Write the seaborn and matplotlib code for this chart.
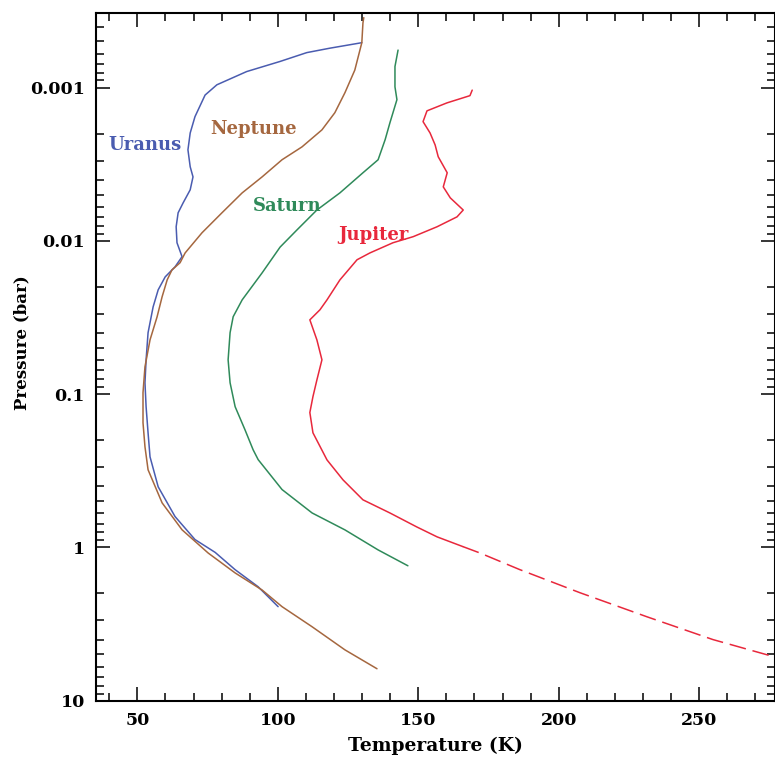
import numpy as np
import pandas as pd
import matplotlib
matplotlib.use("Agg")
import matplotlib.pyplot as plt
from matplotlib.ticker import MultipleLocator, LogLocator, NullFormatter
import seaborn as sns

# =========================
# data
# =========================
uranus_T = [129.9, 118.5, 110.3, 100.8, 88.9, 78.3, 74.1, 70.5, 68.8, 68.0, 68.8, 69.8,
            68.8, 66.3, 64.5, 63.8, 64.1, 65.9, 63.4, 59.9, 57.4, 55.6, 53.8, 53.1, 52.7,
            53.1, 53.8, 54.5, 57.4, 63.4, 70.5, 77.7, 84.8, 93.0, 100.1]
uranus_P = [5.1e-4, 5.54e-4, 5.92e-4, 6.76e-4, 7.87e-4, 9.6e-4, 1.12e-3, 1.55e-3, 1.98e-3,
            2.55e-3, 3.29e-3, 3.83e-3, 4.65e-3, 5.65e-3, 6.57e-3, 8.1e-3, 0.0103, 0.0127,
            0.0148, 0.0172, 0.0209, 0.027, 0.0398, 0.0598, 0.0844, 0.121, 0.179, 0.257,
            0.403, 0.63, 0.89, 1.08, 1.4, 1.81, 2.44]

neptune_T = [130.6, 130.3, 129.9, 127.4, 123.9, 120.3, 115.7, 108.6, 101.5, 94.4, 87.3, 80.1,
             73.0, 67.0, 65.2, 62.3, 60.6, 58.8, 57.0, 54.5, 52.7, 52.0, 52.0, 52.7, 53.8,
             58.8, 65.9, 75.2, 84.8, 94.4, 101.5, 112.2, 123.9, 135.3]
neptune_P = [3.5e-4, 3.79e-4, 5.1e-4, 7.7e-4, 1.08e-3, 1.46e-3, 1.89e-3, 2.44e-3, 2.96e-3,
             3.83e-3, 4.87e-3, 6.57e-3, 8.87e-3, 0.012, 0.0139, 0.0155, 0.018, 0.0232,
             0.0314, 0.0443, 0.0664, 0.098, 0.154, 0.221, 0.312, 0.513, 0.769, 1.09, 1.47,
             1.9, 2.44, 3.3, 4.67, 6.2]

saturn_T = [142.8, 141.7, 141.7, 142.4, 139.9, 138.2, 135.7, 130.3, 122.1, 113.9, 106.8, 100.8,
            94.4, 87.3, 84.1, 83.0, 82.3, 83.0, 84.8, 88.3, 91.2, 93.0, 101.5, 112.2, 123.9,
            135.7, 146.3]
saturn_P = [5.7e-4, 7.3e-4, 9.9e-4, 1.2e-3, 1.7e-3, 2.19e-3, 2.96e-3, 3.6e-3, 4.87e-3, 6.3e-3,
            8.5e-3, 0.011, 0.0162, 0.0243, 0.0313, 0.0398, 0.0598, 0.0844, 0.121, 0.171,
            0.231, 0.268, 0.42, 0.597, 0.77, 1.04, 1.32]

jupiter_T = [169.2, 168.4, 160.2, 153.1, 151.7, 154.2, 156.0, 157.1, 160.3, 158.9, 161.4, 166.0,
             163.8, 156.7, 148.2, 141.0, 132.8, 128.2, 122.1, 117.5, 115.0, 111.4, 113.9,
             115.7, 113.9, 112.5, 111.4, 112.5, 117.5, 123.2, 130.3, 139.9, 149.5, 156.7, 165.9]
jupiter_P = [1.04e-3, 1.13e-3, 1.26e-3, 1.42e-3, 1.67e-3, 1.98e-3, 2.37e-3, 2.83e-3, 3.6e-3,
             4.45e-3, 5.25e-3, 6.3e-3, 6.98e-3, 8.1e-3, 9.4e-3, 0.0103, 0.012, 0.0133, 0.018,
             0.0243, 0.0282, 0.0328, 0.0443, 0.0598, 0.081, 0.104, 0.132, 0.179, 0.269,
             0.363, 0.49, 0.597, 0.737, 0.855, 0.99]
# deeper Jupiter part (dashed)
jupiter_ext_T = [165.9, 172.0, 186.2, 207.6, 231.4, 254.9, 277.0, 282.0]
jupiter_ext_P = [0.99, 1.09, 1.4, 1.98, 2.84, 4.0, 5.2, 5.6]

ytick_vals = [1e-3, 1e-2, 1e-1, 1, 10]
ytick_labels = ["0.001", "0.01", "0.1", "1", "10"]
xtick_vals = [50, 100, 150, 200, 250]

names = ["Uranus", "Neptune", "Saturn", "Jupiter"]
label_T = [52.8, 91.5, 103.3, 134.2]
label_P = [2.37e-3, 1.86e-3, 5.9e-3, 9.14e-3]

colors = {"Uranus": "#4a5cb0", "Neptune": "#a5673f", "Saturn": "#2f8a5a", "Jupiter": "#e8283c"}

# =========================
# style
# =========================
sns.set_style("ticks")
plt.rcParams["font.family"] = ["DejaVu Serif"]
plt.rcParams["font.weight"] = "bold"
plt.rcParams["text.color"] = "black"
plt.rcParams["axes.labelcolor"] = "black"

fig = plt.figure(figsize=(7.75, 7.59), dpi=100)
ax = fig.add_axes([0.124, 0.077, 0.876, 0.906])

lw = 1.1
curves = [("Uranus", uranus_T, uranus_P), ("Neptune", neptune_T, neptune_P),
          ("Saturn", saturn_T, saturn_P), ("Jupiter", jupiter_T, jupiter_P)]
for name, T, P in curves:
    df = pd.DataFrame({"T": T, "P": P})
    sns.lineplot(data=df, x="T", y="P", sort=False, estimator=None,
                 color=colors[name], lw=lw, ax=ax)

df_ext = pd.DataFrame({"T": jupiter_ext_T, "P": jupiter_ext_P})
sns.lineplot(data=df_ext, x="T", y="P", sort=False, estimator=None,
             color=colors["Jupiter"], lw=lw, ax=ax)
ax.lines[-1].set_dashes((11, 4.5))

ax.set_yscale("log")
ax.set_xlim(35.3, 277)
ax.set_ylim(10, 3.26e-4)

ax.set_xticks(xtick_vals)
ax.xaxis.set_minor_locator(MultipleLocator(10))
ax.set_yticks(ytick_vals)
ax.set_yticklabels(ytick_labels)
ax.yaxis.set_minor_locator(LogLocator(base=10, subs=np.arange(2, 10)))
ax.yaxis.set_minor_formatter(NullFormatter())

ax.tick_params(which="both", direction="in", top=True, right=True, width=1.1,
               labelsize=12.5, colors="black")
ax.tick_params(which="major", length=10, pad=8)
ax.tick_params(which="minor", length=5.5)
for s in ax.spines.values():
    s.set_linewidth(1.5)
    s.set_color("black")

ax.set_xlabel("Temperature (K)", fontsize=13.5, fontweight="bold", labelpad=6)
ax.set_ylabel("Pressure (bar)", fontsize=12, fontweight="bold", va="center")
ax.yaxis.set_label_coords(-0.109, 0.52)

for name, t, p in zip(names, label_T, label_P):
    ax.text(t, p, name, color=colors[name], fontsize=13, fontweight="bold",
            ha="center", va="center")

fig.savefig("out.png", dpi=100)
plt.close(fig)
